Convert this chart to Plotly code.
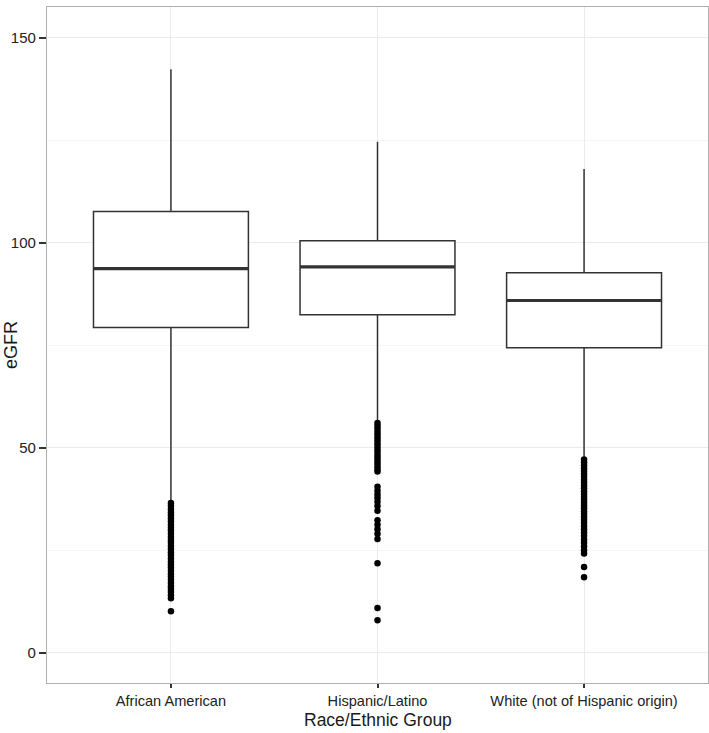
import plotly.graph_objects as go

groups = ["African American", "Hispanic/Latino", "White (not of Hispanic origin)"]
q1 = [79.3, 82.4, 74.4]
median = [93.7, 94.1, 85.9]
q3 = [107.6, 100.5, 92.7]
lower_whisker = [37.0, 56.5, 47.6]
upper_whisker = [142.3, 124.6, 118.0]

outliers_aa = [36.5, 35.8, 35.0, 34.2, 33.5, 32.7, 32.0, 31.2, 30.5, 29.8, 29.0, 28.2,
               27.5, 26.8, 26.0, 25.3, 24.5, 23.8, 23.0, 22.2, 21.5, 20.8, 20.0, 19.2,
               18.5, 17.8, 17.0, 16.2, 15.5, 14.8, 14.0, 13.3, 10.1]
outliers_hl = [56.0, 55.3, 54.6, 53.9, 53.2, 52.5, 51.8, 51.1, 50.4, 49.7, 49.0, 48.3,
               47.6, 46.9, 46.2, 45.5, 44.8, 44.2, 40.5, 39.5, 38.6, 37.7, 36.8, 35.8,
               34.6, 32.3, 31.2, 30.1, 29.0, 27.7, 21.8, 10.9, 7.9]
outliers_wh = [47.1, 46.4, 45.7, 45.0, 44.3, 43.6, 42.9, 42.2, 41.5, 40.8, 40.1, 39.4,
               38.7, 38.0, 37.3, 36.6, 35.9, 35.2, 34.5, 33.8, 33.1, 32.4, 31.7, 30.9,
               30.1, 29.3, 28.5, 27.6, 26.8, 25.9, 25.0, 24.2, 20.9, 18.4]
outliers = [outliers_aa, outliers_hl, outliers_wh]

y_ticks = [0, 50, 100, 150]

positions = [1, 2, 3]
box_width = 0.75
dark = "#333333"

fig = go.Figure()

fig.add_trace(go.Box(
    x=positions, q1=q1, median=median, q3=q3,
    lowerfence=lower_whisker, upperfence=upper_whisker,
    width=box_width, whiskerwidth=0, boxpoints=False,
    fillcolor="white", line=dict(color=dark, width=1.5),
    showlegend=False, hoverinfo="skip",
))

for pos, m in zip(positions, median):
    fig.add_trace(go.Scatter(
        x=[pos - box_width / 2, pos + box_width / 2], y=[m, m],
        mode="lines", line=dict(color=dark, width=3.2),
        showlegend=False, hoverinfo="skip",
    ))

for pos, vals in zip(positions, outliers):
    fig.add_trace(go.Scatter(
        x=[pos] * len(vals), y=vals, mode="markers",
        marker=dict(color="black", size=6.5, line=dict(width=0)),
        showlegend=False, hoverinfo="skip",
    ))

font_family = "Liberation Sans, Arial, sans-serif"

fig.update_layout(
    width=709, height=733,
    margin=dict(l=47, r=1, t=7, b=50, autoexpand=False),
    paper_bgcolor="white", plot_bgcolor="white",
    font=dict(family=font_family, color="#1a1a1a"),
    xaxis=dict(
        range=[0.4, 3.6], tickmode="array", tickvals=positions, ticktext=groups,
        showgrid=True, gridcolor="#ebebeb", gridwidth=1,
        ticks="outside", ticklen=4, tickwidth=1.5, tickcolor=dark,
        tickfont=dict(size=14.6, color="#222222"),
        showline=True, linecolor="#b0b0b0", linewidth=1.2, mirror=True,
        zeroline=False,
    ),
    yaxis=dict(
        range=[-7.4, 157.5], tickmode="array", tickvals=y_ticks,
        ticktext=[str(v) for v in y_ticks],
        showgrid=True, gridcolor="#ebebeb", gridwidth=1,
        minor=dict(dtick=25, tick0=0, showgrid=True, gridcolor="#f5f5f5", gridwidth=1),
        ticks="outside", ticklen=7, tickwidth=1.5, tickcolor=dark,
        tickfont=dict(size=15, color="#222222"),
        showline=True, linecolor="#b0b0b0", linewidth=1.2, mirror=True,
        zeroline=False,
    ),
    annotations=[
        dict(text="Race/Ethnic Group", xref="paper", yref="paper", x=0.5, y=0,
             xanchor="center", yanchor="middle", yshift=-37, showarrow=False,
             font=dict(size=17.5, color="#1a1a1a", family=font_family)),
        dict(text="eGFR", xref="paper", yref="paper", x=0, y=0.5,
             xanchor="center", yanchor="middle", xshift=-36, textangle=-90,
             showarrow=False,
             font=dict(size=18, color="#1a1a1a", family=font_family)),
    ],
)

fig.write_html("out.html")
